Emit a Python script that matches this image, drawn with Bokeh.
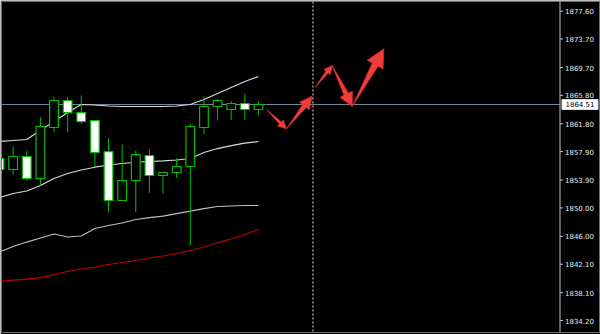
import math
from bokeh.plotting import figure
from bokeh.models import Range1d, Span, ColumnDataSource
from bokeh.core.properties import value
from bokeh.embed import file_html
from bokeh.resources import INLINE

# ---------------- data ----------------
bar_index = list(range(20))
opens = [1856.93, 1855.39, 1857.21, 1854.12, 1861.28, 1865.07, 1863.38, 1862.26, 1857.91, 1851.04,
         1853.84, 1857.35, 1854.55, 1854.97, 1855.81, 1861.28, 1864.23, 1863.81, 1864.65, 1863.81]
highs = [1857.35, 1858.61, 1857.95, 1862.73, 1865.53, 1865.53, 1865.77, 1862.30, 1859.74, 1858.89,
         1858.05, 1858.15, 1855.11, 1856.97, 1861.80, 1865.67, 1865.31, 1864.97, 1866.01, 1864.97]
lows = [1854.97, 1854.69, 1853.84, 1853.14, 1860.62, 1860.62, 1861.88, 1855.71, 1849.40, 1850.97,
        1849.40, 1852.12, 1851.98, 1854.22, 1844.72, 1860.30, 1862.26, 1862.36, 1862.36, 1862.96]
closes = [1855.39, 1857.21, 1854.12, 1861.42, 1865.07, 1863.38, 1862.12, 1857.77, 1851.04, 1853.84,
          1857.49, 1854.55, 1854.97, 1855.81, 1861.42, 1864.23, 1865.07, 1864.65, 1863.81, 1864.51]

bb_upper = [1859.32, 1859.46, 1859.60, 1860.89, 1862.12, 1863.38, 1864.51, 1864.44, 1864.30, 1864.23,
            1864.23, 1864.23, 1864.23, 1864.30, 1864.51, 1865.21, 1866.05, 1866.89, 1867.73, 1868.44]
bb_middle = [1851.46, 1852.02, 1852.37, 1853.14, 1854.12, 1854.83, 1855.32, 1855.71, 1856.02, 1856.23,
             1856.41, 1856.51, 1856.61, 1856.72, 1856.93, 1857.77, 1858.33, 1858.75, 1859.08, 1859.32]
bb_lower = [1843.81, 1844.58, 1845.21, 1845.78, 1846.34, 1845.92, 1846.06, 1847.11, 1847.53, 1847.88,
            1848.37, 1848.65, 1848.86, 1849.21, 1849.56, 1849.91, 1850.20, 1850.27, 1850.34, 1850.34]
ma_red = [1839.67, 1839.88, 1840.02, 1840.23, 1840.65, 1841.08, 1841.43, 1841.71, 1842.06, 1842.34,
          1842.62, 1842.97, 1843.25, 1843.60, 1844.02, 1844.51, 1845.14, 1845.64, 1846.27, 1846.97]

tick_labels = ["1834.20", "1838.10", "1842.10", "1846.00", "1850.00", "1853.90",
               "1857.90", "1861.80", "1865.80", "1869.70", "1873.70", "1877.60"]
current_price = 1864.51
current_price_label = "1864.51"
separator_bar = 23

# forecast arrows (bar index, price)
arrow_tail_x = [19.59, 21.06, 23.18, 24.41, 25.88]
arrow_tail_y = [1863.81, 1861.10, 1866.93, 1869.98, 1864.23]
arrow_tip_x = [21.06, 22.94, 24.41, 25.88, 28.20]
arrow_tip_y = [1861.10, 1865.67, 1869.98, 1864.23, 1872.32]

# ---------------- geometry ----------------
W, H = 600, 334
BL, BR, BT, BB = 1, 0, 1, 2
FW, FH = W - BL - BR, H - BT - BB
X0 = 0.147
XS = 13.629                      # px per bar
X1 = X0 + FW / XS
Y0, Y1 = 1832.52, 1878.96
YS = FH / (Y1 - Y0)              # px per price unit
AXIS_PX = 558.5                  # price scale line, px from frame left
x_axis = X0 + AXIS_PX / XS

p = figure(width=W, height=H, output_backend="svg", toolbar_location=None,
           x_range=Range1d(X0, X1), y_range=Range1d(Y0, Y1),
           x_axis_location=None, y_axis_location=None,
           min_border_left=BL, min_border_right=BR, min_border_top=BT, min_border_bottom=BB,
           background_fill_color="black", border_fill_color="black")
p.grid.visible = False
p.outline_line_color = "#6e6e6e"
p.outline_line_width = 1

# current price line
p.segment(x0=[X0], y0=[current_price], x1=[x_axis], y1=[current_price],
          line_color="#74879a", line_width=1)

# indicator lines
p.line(bar_index, ma_red, line_color="#c00000", line_width=1.2)
p.line(bar_index, bb_lower, line_color="#bdbdbd", line_width=1.2)
p.line(bar_index, bb_middle, line_color="#d8d8d8", line_width=1.2)
p.line(bar_index, bb_upper, line_color="#d8d8d8", line_width=1.2)

# candles
green = "#00c000"
src = ColumnDataSource(dict(
    x=bar_index, high=highs, low=lows,
    top=[max(o, c) for o, c in zip(opens, closes)],
    bottom=[min(o, c) for o, c in zip(opens, closes)],
    fill=["black" if c >= o else "white" for o, c in zip(opens, closes)],
))
p.segment(x0="x", y0="high", x1="x", y1="low", source=src, line_color=green, line_width=1)
p.vbar(x="x", width=0.64, top="top", bottom="bottom", fill_color="fill",
       line_color=green, line_width=1.2, source=src)

# separator
p.add_layout(Span(location=separator_bar, dimension="height", line_color="#e6e6e6",
                  line_width=1, line_dash="2 2"))

# arrows built as tapered polygons in pixel space
axs, ays = [], []
for tx, ty, hx, hy in zip(arrow_tail_x, arrow_tail_y, arrow_tip_x, arrow_tip_y):
    ax_, ay_ = tx * XS, ty * YS
    bx_, by_ = hx * XS, hy * YS
    dx, dy = bx_ - ax_, by_ - ay_
    L = math.hypot(dx, dy)
    ux, uy = dx / L, dy / L
    nx, ny = -uy, ux
    hl = min(max(0.3 * L, 7.0), 18.0)
    hw = 0.5 * hl
    sw = 0.36 * hw
    bsx, bsy = bx_ - ux * hl, by_ - uy * hl
    pts = [(ax_, ay_),
           (bsx + nx * sw, bsy + ny * sw),
           (bsx + nx * hw, bsy + ny * hw),
           (bx_, by_),
           (bsx - nx * hw, bsy - ny * hw),
           (bsx - nx * sw, bsy - ny * sw)]
    axs.append([q[0] / XS for q in pts])
    ays.append([q[1] / YS for q in pts])
p.patches(axs, ays, fill_color="#f23c3c", line_color="#d42a2a", line_width=0.8)

# ---------------- price scale (right) ----------------
tick_vals = [float(t) for t in tick_labels]
p.add_layout(Span(location=x_axis, dimension="height", line_color="#c8c8c8", line_width=1))
p.segment(x0=[x_axis] * len(tick_vals), y0=tick_vals,
          x1=[x_axis + 3.0 / XS] * len(tick_vals), y1=tick_vals,
          line_color="#c8c8c8", line_width=1)
p.text(x=[x_axis + 5.0 / XS] * len(tick_vals), y=tick_vals, text=tick_labels,
       text_font=value("DejaVu Sans"), text_font_size="7px", text_color="#e8e8e8",
       text_baseline="middle", text_align="left")

# current price tag
p.rect(x=[x_axis + 20.0 / XS], y=[current_price], width=36, height=10,
       width_units="screen", height_units="screen",
       fill_color="white", line_color="#dddddd", line_width=1)
p.text(x=[x_axis + 5.5 / XS], y=[current_price], text=[current_price_label],
       text_font=value("DejaVu Sans"), text_font_size="7px", text_color="black",
       text_baseline="middle", text_align="left")

open("out.html", "w").write(file_html(p, INLINE))
